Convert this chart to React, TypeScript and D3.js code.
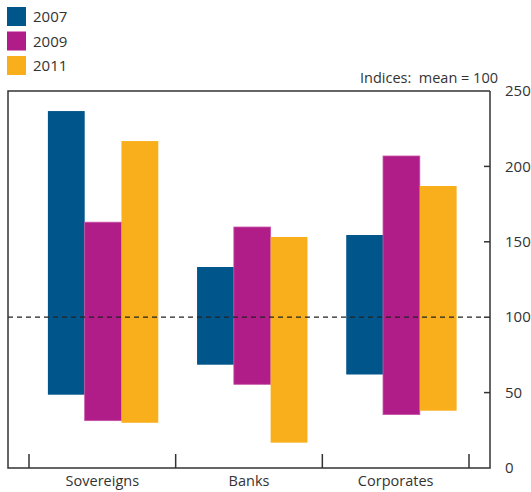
import React from "react";
import * as d3 from "d3";

const categories = ["Sovereigns", "Banks", "Corporates"];
const years = ["2007", "2009", "2011"];
const colors = ["#00568a", "#b01c88", "#f9ae1b"];
// [low, high] per category for each year
const lows2007 = [48.6, 68.5, 62];
const highs2007 = [236.7, 133.3, 154.5];
const lows2009 = [31.4, 55.5, 35.4];
const highs2009 = [163, 159.8, 206.9];
const lows2011 = [30, 16.8, 38];
const highs2011 = [216.8, 153.2, 187];
const yTicks = [0, 50, 100, 150, 200, 250];
const unitLabel = "Indices:  mean = 100";
const referenceValue = 100;

const lows = [lows2007, lows2009, lows2011];
const highs = [highs2007, highs2009, highs2011];

export default function App() {
  const W = 531, H = 492;
  const left = 8, right = 490, top = 91, bottom = 468;
  const x = d3.scaleBand().domain(categories).range([29, 469]).padding(0);
  const bw = x.bandwidth();
  const xb = d3.scaleBand().domain(categories).range([28.5, 476]).padding(0);
  const bbw = xb.bandwidth();
  const x1 = d3.scaleBand().domain(years).range([bbw * 0.13, bbw * 0.87]).padding(0);
  const y = d3.scaleLinear().domain([0, 250]).range([bottom, top]);
  const axisColor = "#333";
  const font = "'Open Sans', sans-serif";
  const boundaries = [...categories.map((c) => x(c)!), x(categories[categories.length - 1])! + bw];

  return (
    <svg width={W} height={H} style={{ position: "absolute", left: 0, top: 0 }} fontFamily={font}>
      {/* legend */}
      {years.map((yr, i) => (
        <g key={yr} transform={`translate(7, ${7 + i * 24.5})`}>
          <rect width={19} height={19} fill={colors[i]} />
          <text x={26} y={15} fontSize={15} fill="#333">{yr}</text>
        </g>
      ))}
      <text x={498} y={83} textAnchor="end" fontSize={14.5} fill="#333" style={{ whiteSpace: "pre" }}>{unitLabel}</text>

      {/* bars */}
      {categories.map((c, ci) =>
        years.map((yr, yi) => (
          <rect
            key={c + yr}
            x={xb(c)! + x1(yr)!}
            width={x1.bandwidth()}
            y={y(highs[yi][ci])}
            height={y(lows[yi][ci]) - y(highs[yi][ci])}
            fill={colors[yi]}
            stroke={yi === 1 ? "#c653a5" : "none"}
            strokeWidth={yi === 1 ? 0.8 : 0}
          />
        ))
      )}

      {/* reference line */}
      <line x1={left} x2={right - 6} y1={y(referenceValue)} y2={y(referenceValue)} stroke="#222" strokeWidth={1.2} strokeDasharray="5,4" />

      {/* frame */}
      <path d={`M${right},${top}H${left}V${bottom}H${right}V${top}`} fill="none" stroke={axisColor} strokeWidth={1.5} />

      {/* y ticks */}
      {yTicks.map((t) => (
        <g key={t}>
          {t > 0 && t < 250 && (
            <line x1={right - 6} x2={right} y1={y(t)} y2={y(t)} stroke={axisColor} strokeWidth={1.5} />
          )}
          <text x={505} y={y(t)} dy="0.35em" fontSize={15} fill="#333">{t}</text>
        </g>
      ))}

      {/* x boundary ticks */}
      {boundaries.map((bx, i) => (
        <line key={i} x1={bx} x2={bx} y1={bottom} y2={bottom - 14} stroke={axisColor} strokeWidth={1.5} />
      ))}
      {categories.map((c) => (
        <text key={c} x={x(c)! + bw / 2} y={486} textAnchor="middle" fontSize={14.5} fill="#333">{c}</text>
      ))}
    </svg>
  );
}
